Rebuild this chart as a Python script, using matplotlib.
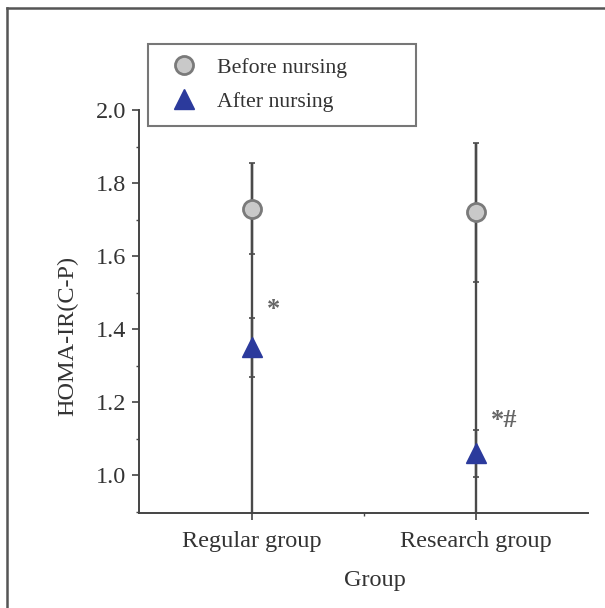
import matplotlib
matplotlib.use("Agg")
import matplotlib.pyplot as plt
from matplotlib.lines import Line2D

plt.rcParams['font.family'] = ['Liberation Serif', 'DejaVu Serif']

groups = ["Regular group", "Research group"]
before_mean = [1.73, 1.72]
before_sd = [0.125, 0.19]
after_mean = [1.35, 1.06]
after_sd = [0.08, 0.065]
marks = ["*", "*#"]

y_ticks = [1.0, 1.2, 1.4, 1.6, 1.8, 2.0]
y_min, y_max = 0.896, 2.0

fig = plt.figure(figsize=(6.05, 6.08), dpi=100)
ax = fig.add_axes([0.229, 0.156, 0.743, 0.663])

x = list(range(len(groups)))
line_col = "#4a4a4a"
text_col = "#333333"
fs = 17.5

# stems from the upper whisker down to the axis
ax.vlines(x, y_min, [m + s for m, s in zip(before_mean, before_sd)],
          color=line_col, lw=1.7, zorder=1)

ax.errorbar(x, before_mean, yerr=before_sd, fmt="none", ecolor=line_col,
            elinewidth=1.7, capsize=2.5, capthick=1.2, zorder=2)
ax.errorbar(x, after_mean, yerr=after_sd, fmt="none", ecolor=line_col,
            elinewidth=1.7, capsize=2.5, capthick=1.2, zorder=2)

ax.plot(x, before_mean, "o", ms=13, mfc="#c9c9c9", mec="#7a7a7a", mew=2.0,
        ls="none", zorder=3)
ax.plot(x, after_mean, "^", ms=14, mfc="#2b3a9c", mec="#2b3a9c",
        ls="none", zorder=3)

# significance marks just above the after-nursing whisker
for xi, m, s, txt in zip(x, after_mean, after_sd, marks):
    ax.text(xi + 0.068, m + s + 0.025, txt, fontsize=19, color="#666666",
            fontweight="bold", ha="left", va="center")

ax.set_xlim(-0.507, 1.5)
ax.set_ylim(y_min, y_max)
ax.set_xticks(x)
ax.set_xticklabels(groups)
ax.set_xticks([0.5], minor=True)
ax.set_yticks(y_ticks)
ax.set_yticklabels([f"{v:.1f}" for v in y_ticks])
ax.set_yticks([0.9, 1.1, 1.3, 1.5, 1.7, 1.9], minor=True)

for side in ("top", "right"):
    ax.spines[side].set_visible(False)
for side in ("left", "bottom"):
    ax.spines[side].set_color("#444444")
    ax.spines[side].set_linewidth(1.4)

ax.tick_params(axis="both", which="major", direction="out", length=5,
               width=1.2, color="#444444", labelsize=fs,
               labelcolor=text_col, pad=4)
ax.tick_params(axis="both", which="minor", direction="out", length=2.5,
               width=1.0, color="#444444")
ax.tick_params(axis="x", which="major", pad=8)

ax.set_xlabel("Group", fontsize=fs, color=text_col)
ax.set_ylabel("HOMA-IR(C-P)", fontsize=fs, color=text_col)
ax.xaxis.set_label_coords(0.526, -0.14)
ax.yaxis.set_label_coords(-0.134, 0.44)

handles = [
    Line2D([], [], marker="o", ls="none", ms=13, mfc="#c9c9c9", mec="#7a7a7a",
           mew=2.0),
    Line2D([], [], marker="^", ls="none", ms=14, mfc="#2b3a9c", mec="#2b3a9c"),
]
leg = fig.legend(handles, ["Before nursing", "After nursing"],
                 loc="upper left", bbox_to_anchor=(0.245, 0.928, 0.443, 0.0),
                 bbox_transform=fig.transFigure, mode="expand",
                 fontsize=15.7, frameon=True, fancybox=False,
                 edgecolor="#555555", borderpad=0.62, labelspacing=0.65,
                 handletextpad=0.5, handlelength=2.05, borderaxespad=0)
leg.get_frame().set_linewidth(1.5)
for t in leg.get_texts():
    t.set_color(text_col)

# page frame on the left and top
fig.add_artist(Line2D([0.012, 0.012], [0.0, 0.987], transform=fig.transFigure,
                      color="#555555", lw=1.8))
fig.add_artist(Line2D([0.012, 1.0], [0.987, 0.987], transform=fig.transFigure,
                      color="#555555", lw=1.8))

fig.savefig("out.png", dpi=100)
